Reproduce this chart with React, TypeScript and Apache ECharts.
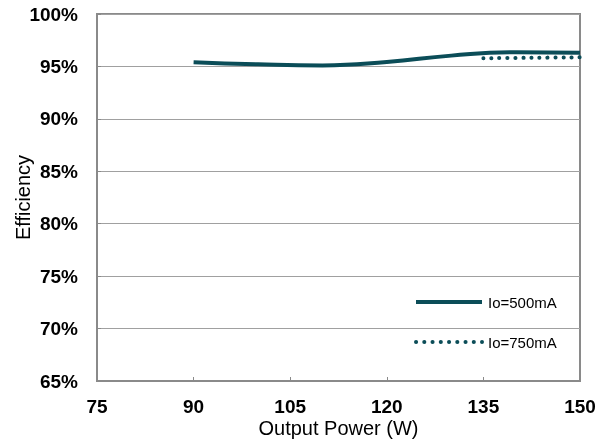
import React, { useEffect, useRef } from "react";
import * as echarts from "echarts";

const xTicks = { min: 75, max: 150, interval: 15 };
const yTicks = { min: 65, max: 100, interval: 5 };
const seriesNames = ["Io=500mA", "Io=750mA"];
const power500 = [90, 100, 110, 120, 130, 140, 150];
const eff500 = [95.4, 95.2, 95.1, 95.42, 96.03, 96.35, 96.3];
const power750 = [135, 140, 145, 150];
const eff750 = [95.78, 95.81, 95.84, 95.87];

const teal = "#0b4d58";
const axisGray = "#8a8a8a";

export default function App() {
  const ref = useRef<HTMLDivElement>(null);
  useEffect(() => {
    const chart = echarts.init(ref.current!, null, { renderer: "svg" });
    const font = "Liberation Sans, Arial, sans-serif";
    const dotted = { color: teal, width: 4, type: [0.1, 7.9], cap: "round" };
    chart.setOption({
      animation: false,
      grid: {
        left: 97,
        top: 14,
        right: 29,
        bottom: 65,
        show: true,
        borderColor: axisGray,
        borderWidth: 2,
        outerBoundsMode: "none",
        containLabel: false,
      },
      graphic: [
        {
          type: "group",
          z: 100,
          children: [
            {
              type: "rect",
              shape: { x: 404, y: 283, width: 165, height: 77 },
              style: { fill: "#ffffff" },
            },
            {
              type: "line",
              shape: { x1: 416, y1: 302, x2: 482, y2: 302 },
              style: { stroke: teal, lineWidth: 4 },
            },
            {
              type: "line",
              shape: { x1: 416, y1: 342, x2: 482, y2: 342 },
              style: { stroke: teal, lineWidth: 4, lineDash: [0.1, 8.15], lineCap: "round" },
            },
            {
              type: "text",
              x: 488,
              y: 302,
              style: {
                text: seriesNames[0],
                font: "15px " + font,
                fill: "#000",
                verticalAlign: "middle",
              },
            },
            {
              type: "text",
              x: 488,
              y: 342,
              style: {
                text: seriesNames[1],
                font: "15px " + font,
                fill: "#000",
                verticalAlign: "middle",
              },
            },
          ],
        },
      ],
      xAxis: {
        type: "value",
        min: xTicks.min,
        max: xTicks.max,
        interval: xTicks.interval,
        name: "Output Power (W)",
        nameLocation: "middle",
        nameGap: 37,
        nameMoveOverlap: false,
        nameTextStyle: { fontFamily: font, fontSize: 20, color: "#000" },
        axisLine: { lineStyle: { color: axisGray, width: 2 } },
        axisTick: { inside: true, length: 4, lineStyle: { color: axisGray } },
        axisLabel: {
          fontFamily: font,
          fontSize: 19,
          fontWeight: "bold",
          color: "#000",
          margin: 16,
        },
        splitLine: { show: false },
      },
      yAxis: {
        type: "value",
        min: yTicks.min,
        max: yTicks.max,
        interval: yTicks.interval,
        name: "Efficiency",
        nameLocation: "middle",
        nameGap: 64,
        nameMoveOverlap: false,
        nameTextStyle: { fontFamily: font, fontSize: 20, color: "#000" },
        axisLine: { show: true, lineStyle: { color: axisGray, width: 2 } },
        axisTick: { show: true, inside: true, length: 4, lineStyle: { color: axisGray } },
        axisLabel: {
          fontFamily: font,
          fontSize: 19,
          fontWeight: "bold",
          color: "#000",
          margin: 19,
          formatter: "{value}%",
        },
        splitLine: { show: true, lineStyle: { color: "#a0a0a0", width: 1 } },
      },
      series: [
        {
          name: seriesNames[0],
          type: "line",
          smooth: 0.5,
          symbol: "none",
          data: power500.map((p, i) => [p, eff500[i]]),
          lineStyle: { color: teal, width: 4 },
          itemStyle: { color: teal },
          z: 3,
        },
        {
          name: seriesNames[1],
          type: "line",
          smooth: true,
          symbol: "none",
          data: power750.map((p, i) => [p, eff750[i]]),
          lineStyle: dotted,
          itemStyle: { color: teal },
          z: 2,
        },
      ],
    });
    return () => chart.dispose();
  }, []);
  return (
    <div
      ref={ref}
      style={{ position: "fixed", left: 0, top: 0, width: 609, height: 446 }}
    />
  );
}
